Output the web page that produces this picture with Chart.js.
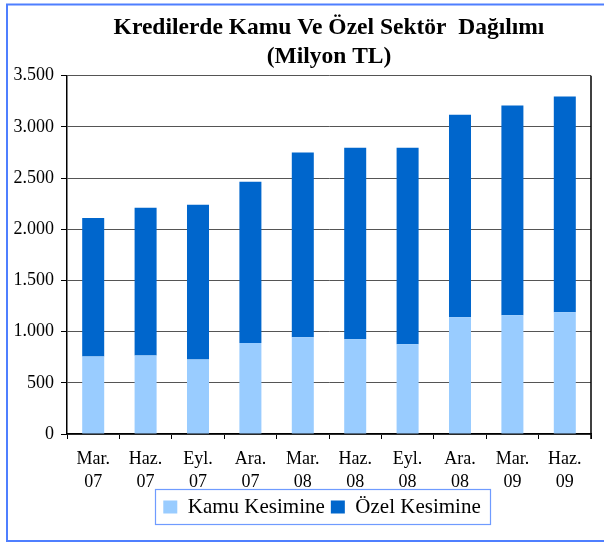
<!DOCTYPE html>
<html>
<head>
<meta charset="utf-8">
<script src="https://cdn.jsdelivr.net/npm/chart.js@4.4.1/dist/chart.umd.min.js"></script>
<style>
  html, body { margin: 0; padding: 0; background: #fff; }
  #wrap { width: 604px; height: 543px; }
</style>
</head>
<body>
<div id="wrap"><canvas id="c" width="604" height="543"></canvas></div>
<script>
// Quarter labels (two lines each)
const periods = [
  ["Mar.", "07"], ["Haz.", "07"], ["Eyl.", "07"], ["Ara.", "07"],
  ["Mar.", "08"], ["Haz.", "08"], ["Eyl.", "08"], ["Ara.", "08"],
  ["Mar.", "09"], ["Haz.", "09"]
];
// Credits to the public sector (million TL)
const kamuKesimine = [758, 768, 728, 888, 944, 925, 876, 1141, 1161, 1190];
// Credits to the private sector (million TL)
const ozelKesimine = [1352, 1442, 1512, 1577, 1806, 1872, 1921, 1979, 2049, 2107];
// Value axis
const yMin = 0, yMax = 3500, yStep = 500;

const SERIF = "'Liberation Serif', 'Times New Roman', serif";

const fmt = v => String(v).replace(/\B(?=(\d{3})+(?!\d))/g, ".");

// Frame, plot-box edge and legend border
const decorations = {
  id: 'decorations',
  afterLayout(chart) {
    // nudge the legend row slightly left of the plot centre
    const lg = chart.legend;
    if (lg) { lg.left -= 7; lg.right -= 7; }
  },
  beforeDraw(chart) {
    const ctx = chart.ctx;
    ctx.save();
    ctx.fillStyle = '#fff';
    ctx.fillRect(0, 0, chart.width, chart.height);
    ctx.restore();
  },
  afterDraw(chart) {
    const ctx = chart.ctx, a = chart.chartArea;
    ctx.save();
    // right edge of the plot box
    ctx.strokeStyle = '#000';
    ctx.lineWidth = 1.5;
    const rx = Math.round(a.right);
    ctx.beginPath();
    ctx.moveTo(rx, a.top);
    ctx.lineTo(rx, a.bottom + 5);
    ctx.stroke();

    // border around the legend
    const hb = chart.legend.legendHitBoxes;
    if (hb && hb.length) {
      const last = hb[hb.length - 1];
      const x0 = hb[0].left - 8;
      const x1 = last.left + last.width + 10;
      const cy = hb[0].top + hb[0].height / 2;
      ctx.strokeStyle = '#6f9bff';
      ctx.lineWidth = 1.2;
      ctx.strokeRect(Math.round(x0) + 0.5, Math.round(cy - 18) + 0.5, Math.round(x1 - x0), 35);
    }

    // outer frame (right edge runs past the canvas)
    ctx.strokeStyle = '#4f7fff';
    ctx.lineWidth = 2;
    ctx.strokeRect(7, 4.5, 600, 536.5);
    ctx.restore();
  }
};

new Chart(document.getElementById('c'), {
  type: 'bar',
  data: {
    labels: periods,
    datasets: [
      {
        label: 'Kamu Kesimine',
        data: kamuKesimine,
        backgroundColor: '#99ccff',
        borderWidth: 0,
        barPercentage: 0.42,
        categoryPercentage: 1.0
      },
      {
        label: 'Özel Kesimine',
        data: ozelKesimine,
        backgroundColor: '#0066cc',
        borderWidth: 0,
        barPercentage: 0.42,
        categoryPercentage: 1.0
      }
    ]
  },
  options: {
    responsive: false,
    animation: false,
    devicePixelRatio: 1,
    layout: { padding: { top: 5, left: 7, right: 13, bottom: 15.5 } },
    plugins: {
      title: {
        display: true,
        fullSize: false,
        text: ['Kredilerde Kamu Ve Özel Sektör  Dağılımı', '(Milyon TL)'],
        color: '#000',
        font: { family: SERIF, size: 23.5, weight: 'bold', lineHeight: 1.25 },
        padding: { top: 8, bottom: 4 }
      },
      legend: {
        display: true,
        position: 'bottom',
        fullSize: false,
        labels: {
          color: '#000',
          boxWidth: 14,
          boxHeight: 13,
          padding: 6,
          font: { family: SERIF, size: 21 }
        }
      },
      tooltip: { enabled: false }
    },
    scales: {
      x: {
        stacked: true,
        afterFit(scale) { scale.height = 56.5; },
        grid: {
          drawOnChartArea: false,
          drawTicks: true,
          tickLength: 5,
          color: '#000',
          offset: true
        },
        border: { color: '#000', width: 1.5 },
        ticks: {
          color: '#000',
          font: { family: SERIF, size: 18, lineHeight: 1.28 },
          padding: 8.5,
          maxRotation: 0,
          autoSkip: false
        }
      },
      y: {
        stacked: true,
        min: yMin,
        max: yMax,
        afterFit(scale) { scale.width = 60; },
        grid: {
          color: '#555',
          tickColor: '#000',
          tickLength: 6,
          lineWidth: 1
        },
        border: { color: '#000', width: 1.5 },
        ticks: {
          stepSize: yStep,
          color: '#000',
          padding: 7,
          font: { family: SERIF, size: 18 },
          callback: v => fmt(v)
        }
      }
    }
  },
  plugins: [decorations]
});
</script>
</body>
</html>
